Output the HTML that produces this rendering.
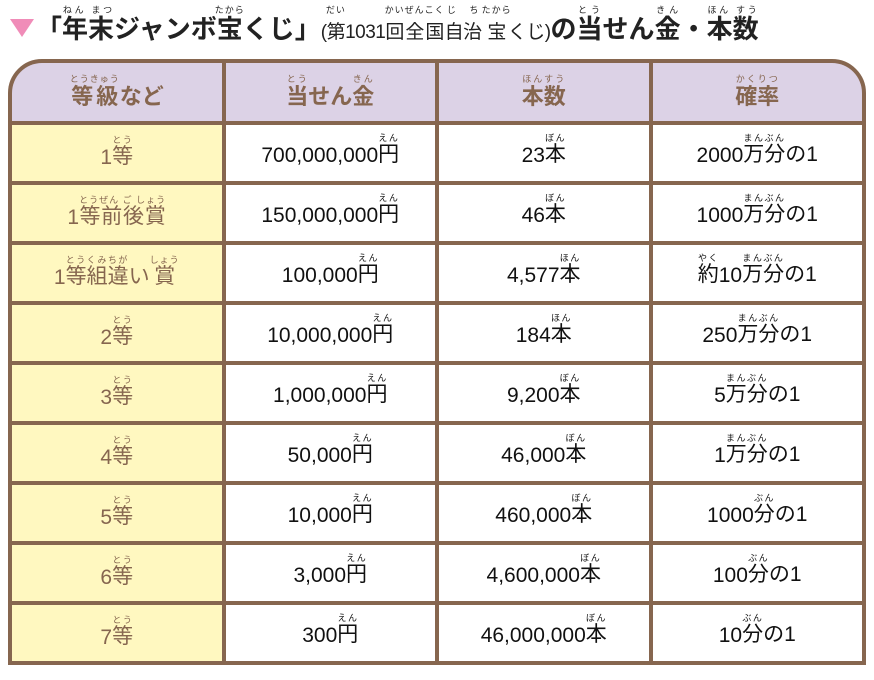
<!DOCTYPE html>
<html><head><meta charset="utf-8"><style>
body{margin:0;width:874px;height:680px;background:#fff;font-family:"Liberation Sans","Noto Sans CJK JP",sans-serif;position:relative;overflow:hidden}
ruby{ruby-position:over}
rt{font-size:9px;font-weight:normal;letter-spacing:1px}
.title{position:absolute;left:10px;top:5px;white-space:nowrap;font-size:26px;font-weight:bold;color:#222}
.tri{display:inline-block;width:0;height:0;border-left:12px solid transparent;border-right:12px solid transparent;border-top:18px solid #f08cb8;vertical-align:middle;margin-right:2px;position:relative;top:-3px}
.small{font-size:19px;font-weight:normal;letter-spacing:-0.5px}
.wrap{position:absolute;left:8px;top:59px;width:850px;height:598px;border:4px solid #86664f;border-radius:34px 34px 0 0;overflow:hidden;background:#86664f;display:grid;grid-template-columns:repeat(4,1fr);grid-template-rows:58px repeat(9,1fr);gap:4px}
.c{background:#fff;display:flex;align-items:flex-end;justify-content:center;padding-bottom:13px;box-sizing:border-box;font-size:21px;color:#111}
.h{background:#dcd2e6;color:#86664f;font-size:22px;padding-bottom:10px;font-weight:bold}
.f{background:#fff8c0;color:#86664f;padding-bottom:11px}
</style></head><body>
<div class="title"><span class="tri"></span>「<ruby>年末<rt>ねん まつ</rt></ruby>ジャンボ<ruby>宝<rt>たから</rt></ruby>くじ」<span class="small">(<ruby>第<rt>だい</rt></ruby>1031<ruby>回全国<rt>かいぜんこく</rt></ruby><ruby>自治<rt>じ ち</rt></ruby><ruby>宝<rt>たから</rt></ruby>くじ)</span>の<ruby>当<rt>とう</rt></ruby>せん<ruby>金<rt>きん</rt></ruby>・<ruby>本数<rt>ほん すう</rt></ruby></div>
<div class="wrap">
<div class="c h"><ruby>等級<rt>とうきゅう</rt></ruby>など</div><div class="c h"><ruby>当<rt>とう</rt></ruby>せん<ruby>金<rt>きん</rt></ruby></div><div class="c h"><ruby>本数<rt>ほんすう</rt></ruby></div><div class="c h"><ruby>確率<rt>かくりつ</rt></ruby></div>
<div class="c f">1<ruby>等<rt>とう</rt></ruby></div><div class="c">700,000,000<ruby>円<rt>えん</rt></ruby></div><div class="c">23<ruby>本<rt>ぼん</rt></ruby></div><div class="c">2000<ruby>万分<rt>まんぶん</rt></ruby>の1</div>
<div class="c f">1<ruby>等前後賞<rt>とうぜん ご しょう</rt></ruby></div><div class="c">150,000,000<ruby>円<rt>えん</rt></ruby></div><div class="c">46<ruby>本<rt>ぼん</rt></ruby></div><div class="c">1000<ruby>万分<rt>まんぶん</rt></ruby>の1</div>
<div class="c f">1<ruby>等組違<rt>とうくみちが</rt></ruby>い<ruby>賞<rt>しょう</rt></ruby></div><div class="c">100,000<ruby>円<rt>えん</rt></ruby></div><div class="c">4,577<ruby>本<rt>ほん</rt></ruby></div><div class="c"><ruby>約<rt>やく</rt></ruby>10<ruby>万分<rt>まんぶん</rt></ruby>の1</div>
<div class="c f">2<ruby>等<rt>とう</rt></ruby></div><div class="c">10,000,000<ruby>円<rt>えん</rt></ruby></div><div class="c">184<ruby>本<rt>ほん</rt></ruby></div><div class="c">250<ruby>万分<rt>まんぶん</rt></ruby>の1</div>
<div class="c f">3<ruby>等<rt>とう</rt></ruby></div><div class="c">1,000,000<ruby>円<rt>えん</rt></ruby></div><div class="c">9,200<ruby>本<rt>ぼん</rt></ruby></div><div class="c">5<ruby>万分<rt>まんぶん</rt></ruby>の1</div>
<div class="c f">4<ruby>等<rt>とう</rt></ruby></div><div class="c">50,000<ruby>円<rt>えん</rt></ruby></div><div class="c">46,000<ruby>本<rt>ぼん</rt></ruby></div><div class="c">1<ruby>万分<rt>まんぶん</rt></ruby>の1</div>
<div class="c f">5<ruby>等<rt>とう</rt></ruby></div><div class="c">10,000<ruby>円<rt>えん</rt></ruby></div><div class="c">460,000<ruby>本<rt>ぼん</rt></ruby></div><div class="c">1000<ruby>分<rt>ぶん</rt></ruby>の1</div>
<div class="c f">6<ruby>等<rt>とう</rt></ruby></div><div class="c">3,000<ruby>円<rt>えん</rt></ruby></div><div class="c">4,600,000<ruby>本<rt>ぼん</rt></ruby></div><div class="c">100<ruby>分<rt>ぶん</rt></ruby>の1</div>
<div class="c f">7<ruby>等<rt>とう</rt></ruby></div><div class="c">300<ruby>円<rt>えん</rt></ruby></div><div class="c">46,000,000<ruby>本<rt>ぼん</rt></ruby></div><div class="c">10<ruby>分<rt>ぶん</rt></ruby>の1</div>
</div>
</body></html>
